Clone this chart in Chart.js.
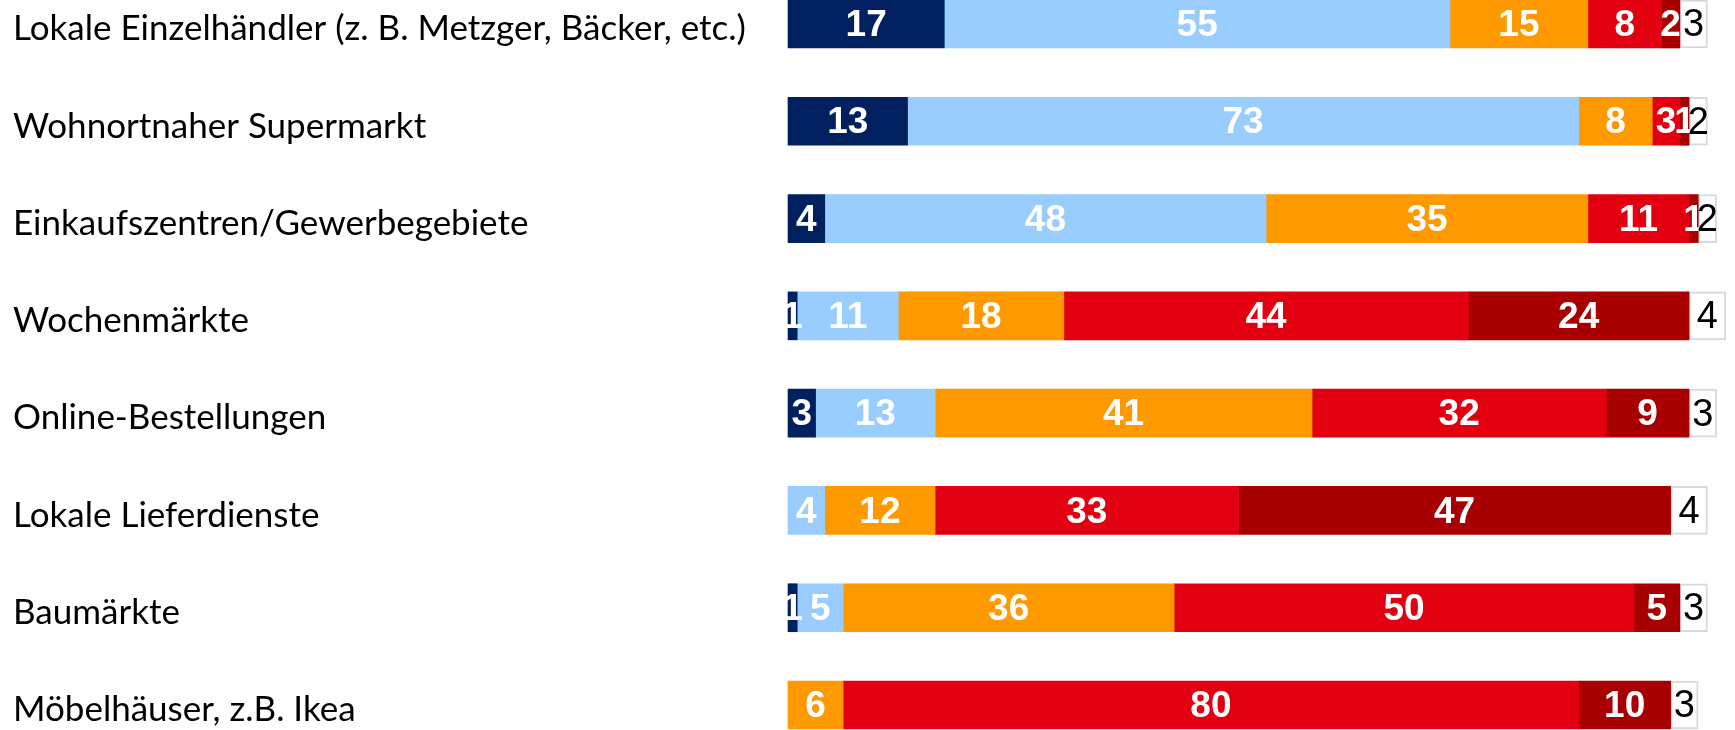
<!DOCTYPE html>
<html lang="de">
  <head>
    <meta charset="UTF-8" />
    <title>Einkaufsorte</title>
    <script src="https://cdn.jsdelivr.net/npm/chart.js@4.4.1/dist/chart.umd.min.js"></script>
    <style>
      body {
        margin: 0;
        background-color: #fff;
      }
      #wrap {
        width: 1735px;
        height: 730px;
        position: relative;
      }
    </style>
  </head>
  <body>
    <div id="wrap"><canvas id="myChart"></canvas></div>
    <script>
      const categories = [
        "Lokale Einzelhändler (z. B. Metzger, Bäcker, etc.)",
        "Wohnortnaher Supermarkt",
        "Einkaufszentren/Gewerbegebiete",
        "Wochenmärkte",
        "Online-Bestellungen",
        "Lokale Lieferdienste",
        "Baumärkte",
        "Möbelhäuser, z.B. Ikea",
      ];

      // Anteile in Prozent, je Segment von links nach rechts
      const darkBlue = [17, 13, 4, 1, 3, 0, 1, 0];
      const lightBlue = [55, 73, 48, 11, 13, 4, 5, 0];
      const orange = [15, 8, 35, 18, 41, 12, 36, 6];
      const red = [8, 3, 11, 44, 32, 33, 50, 80];
      const darkRed = [2, 1, 1, 24, 9, 47, 5, 10];
      const white = [3, 2, 2, 4, 3, 4, 3, 3];

      const series = [
        { data: darkBlue, color: "#002060" },
        { data: lightBlue, color: "#99CCFF" },
        { data: orange, color: "#FF9900" },
        { data: red, color: "#E20010" },
        { data: darkRed, color: "#A80000" },
        { data: white, color: "#FFFFFF" },
      ];

      // Werte mittig in jedes Segment schreiben
      const segmentLabels = {
        id: "segmentLabels",
        afterDatasetsDraw(chart) {
          const ctx = chart.ctx;
          ctx.save();
          ctx.textAlign = "center";
          ctx.textBaseline = "middle";
          chart.data.datasets.forEach((ds, i) => {
            const meta = chart.getDatasetMeta(i);
            const last = i === chart.data.datasets.length - 1;
            ctx.fillStyle = last ? "#000" : "#fff";
            ctx.font = last ? "38px 'Liberation Sans'" : "bold 37px 'Liberation Sans'";
            meta.data.forEach((bar, j) => {
              const v = ds.data[j];
              if (!v) return;
              ctx.fillText(String(v), (bar.x + bar.base) / 2, bar.y + 2);
            });
          });
          ctx.restore();
        },
      };

      const ctx = document.getElementById("myChart").getContext("2d");
      const myChart = new Chart(ctx, {
        type: "bar",
        data: {
          labels: categories,
          datasets: series.map((s, i) => ({
            // leere Segmente gar nicht zeichnen
            data: s.data.map((v) => (v === 0 ? null : v)),
            backgroundColor: s.color,
            borderColor: i === series.length - 1 ? "#D9D9D9" : s.color,
            borderWidth: i === series.length - 1 ? 2 : 0,
            borderSkipped: false,
            barThickness: 48,
            clip: false,
          })),
        },
        options: {
          indexAxis: "y",
          responsive: true,
          maintainAspectRatio: false,
          animation: false,
          layout: {
            padding: { left: 13, right: 0, top: 24, bottom: 25 },
          },
          plugins: {
            legend: { display: false },
            tooltip: { enabled: false },
          },
          scales: {
            x: {
              stacked: true,
              display: false,
              min: 0,
              max: 103,
            },
            y: {
              stacked: true,
              offset: false,
              grid: { display: false, offset: false },
              border: { display: false },
              afterFit: (scale) => {
                scale.width = 775;
              },
              ticks: {
                crossAlign: "far",
                color: "#000",
                labelOffset: 5,
                font: { family: "Lato", size: 35 },
              },
            },
          },
        },
        plugins: [segmentLabels],
      });
    </script>
  </body>
</html>
